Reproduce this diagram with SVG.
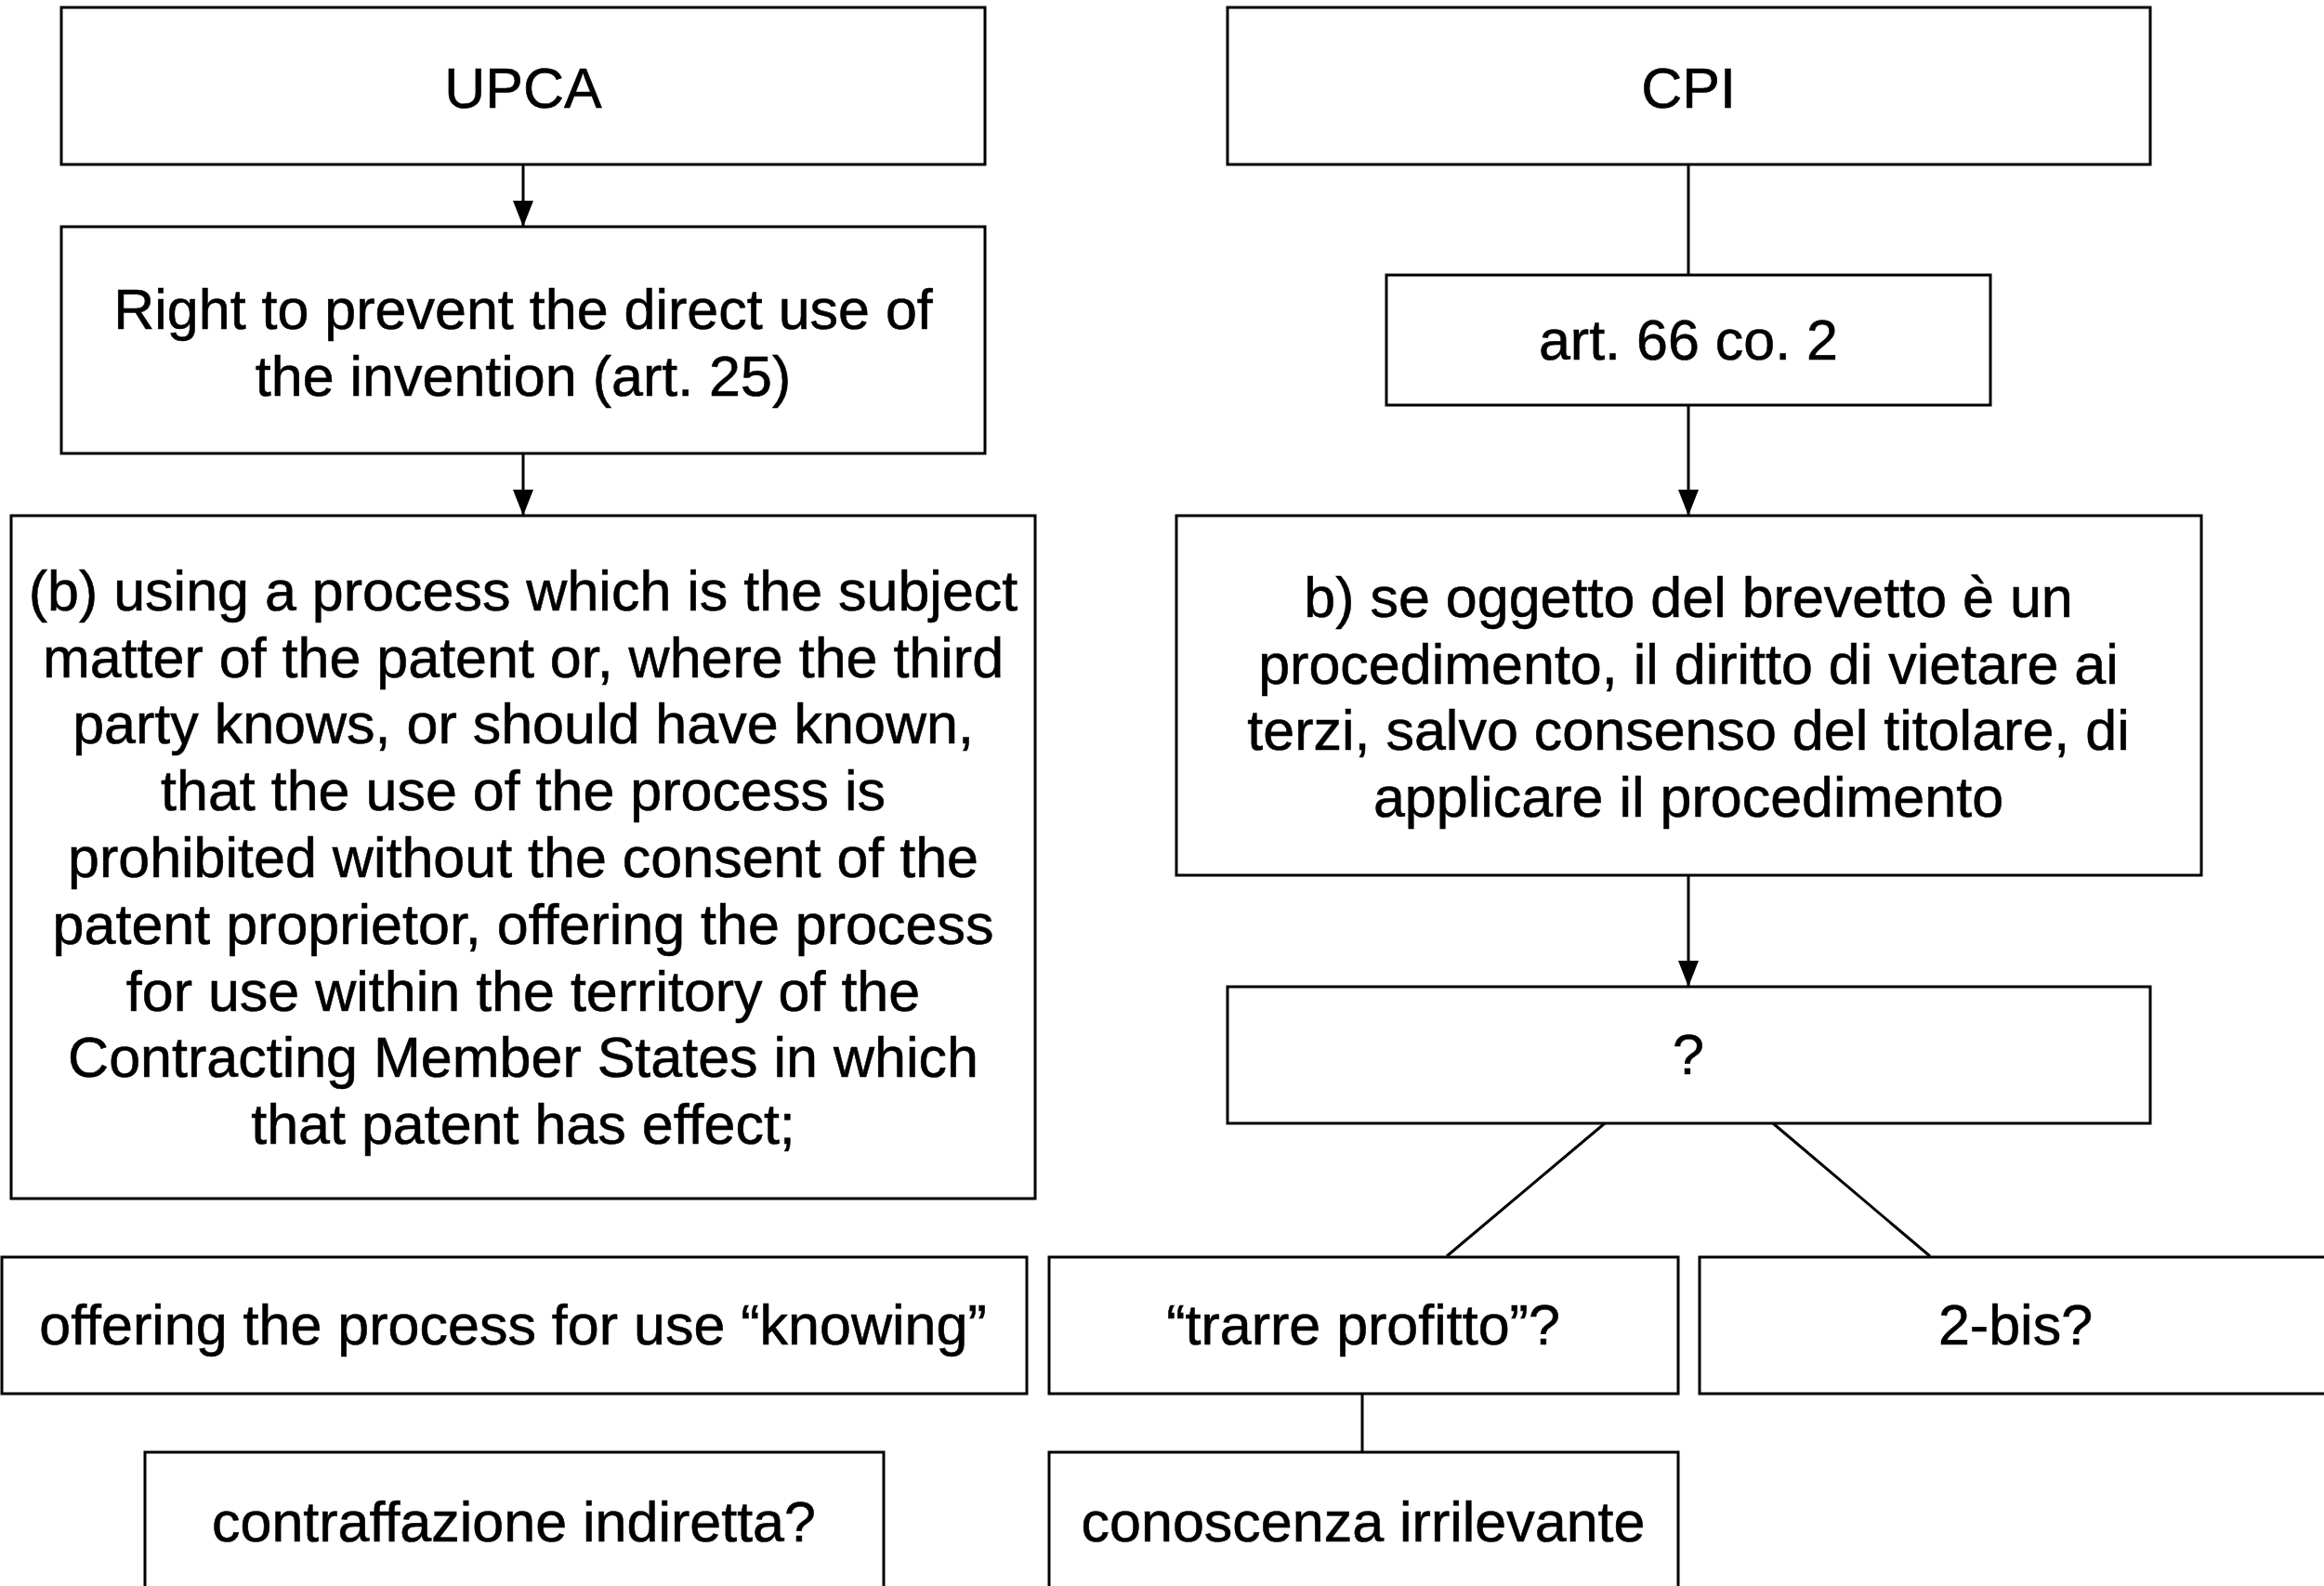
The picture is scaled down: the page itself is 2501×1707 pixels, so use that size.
<svg xmlns="http://www.w3.org/2000/svg" width="2501" height="1707" viewBox="0 0 2501 1707">
<defs>
<style>
.box{fill:#fff;stroke:#000;stroke-width:3}
.t{font-family:"Liberation Sans",Arial,Helvetica,sans-serif;font-size:61px;fill:#000;stroke:#000;stroke-width:0.6;text-anchor:middle}
.c{stroke:#000;stroke-width:3;fill:none}
</style>
<marker id="arr" viewBox="0 0 28 22" refX="28" refY="11" markerWidth="28" markerHeight="22" markerUnits="userSpaceOnUse" orient="auto">
<path d="M0,0 L28,11 L0,22 Z" fill="#000"/>
</marker>
</defs>
<rect width="2501" height="1707" fill="#fff"/>
<g id="connectors">
<line class="c" x1="563" y1="177" x2="563" y2="244" marker-end="url(#arr)"/>
<line class="c" x1="563" y1="488" x2="563" y2="555" marker-end="url(#arr)"/>
<line class="c" x1="1817" y1="177" x2="1817" y2="296"/>
<line class="c" x1="1817" y1="436" x2="1817" y2="555" marker-end="url(#arr)"/>
<line class="c" x1="1817" y1="942" x2="1817" y2="1062" marker-end="url(#arr)"/>
<line class="c" x1="1727" y1="1209" x2="1557" y2="1352"/>
<line class="c" x1="1908" y1="1209" x2="2077" y2="1352"/>
<line class="c" x1="1466" y1="1500" x2="1466" y2="1562"/>
</g>
<g id="upca">
<rect class="box" x="66" y="8" width="994" height="169"/>
<text class="t" x="563" y="116">UPCA</text>
</g>
<g id="right">
<rect class="box" x="66" y="244" width="994" height="244"/>
<text class="t" x="563" y="354">Right to prevent the direct use of</text>
<text class="t" x="563" y="426">the invention (art. 25)</text>
</g>
<g id="upca-b">
<rect class="box" x="12" y="555" width="1102" height="735"/>
<text class="t" x="563" y="657">(b) using a process which is the subject</text>
<text class="t" x="563" y="729">matter of the patent or, where the third</text>
<text class="t" x="563" y="800">party knows, or should have known,</text>
<text class="t" x="563" y="872">that the use of the process is</text>
<text class="t" x="563" y="944">prohibited without the consent of the</text>
<text class="t" x="563" y="1016">patent proprietor, offering the process</text>
<text class="t" x="563" y="1088">for use within the territory of the</text>
<text class="t" x="563" y="1159">Contracting Member States in which</text>
<text class="t" x="563" y="1231">that patent has effect;</text>
</g>
<g id="cpi">
<rect class="box" x="1321" y="8" width="993" height="169"/>
<text class="t" x="1817" y="116">CPI</text>
</g>
<g id="art66">
<rect class="box" x="1492" y="296" width="650" height="140"/>
<text class="t" x="1817" y="387">art. 66 co. 2</text>
</g>
<g id="cpi-b">
<rect class="box" x="1266" y="555" width="1103" height="387"/>
<text class="t" x="1817" y="664">b) se oggetto del brevetto è un</text>
<text class="t" x="1817" y="736">procedimento, il diritto di vietare ai</text>
<text class="t" x="1817" y="807">terzi, salvo consenso del titolare, di</text>
<text class="t" x="1817" y="879">applicare il procedimento</text>
</g>
<g id="question">
<rect class="box" x="1321" y="1062" width="993" height="147"/>
<text class="t" x="1817" y="1156">?</text>
</g>
<g id="offering">
<rect class="box" x="2" y="1353" width="1103" height="147"/>
<text class="t" x="552" y="1447">offering the process for use “knowing”</text>
</g>
<g id="trarre">
<rect class="box" x="1129" y="1353" width="677" height="147"/>
<text class="t" x="1467" y="1447">“trarre profitto”?</text>
</g>
<g id="bis">
<rect class="box" x="1829" y="1353" width="690" height="147"/>
<text class="t" x="2169" y="1447">2-bis?</text>
</g>
<g id="contraffazione">
<rect class="box" x="156" y="1563" width="795" height="160"/>
<text class="t" x="553" y="1659">contraffazione indiretta?</text>
</g>
<g id="conoscenza">
<rect class="box" x="1129" y="1563" width="677" height="160"/>
<text class="t" x="1467" y="1659">conoscenza irrilevante</text>
</g>
</svg>
